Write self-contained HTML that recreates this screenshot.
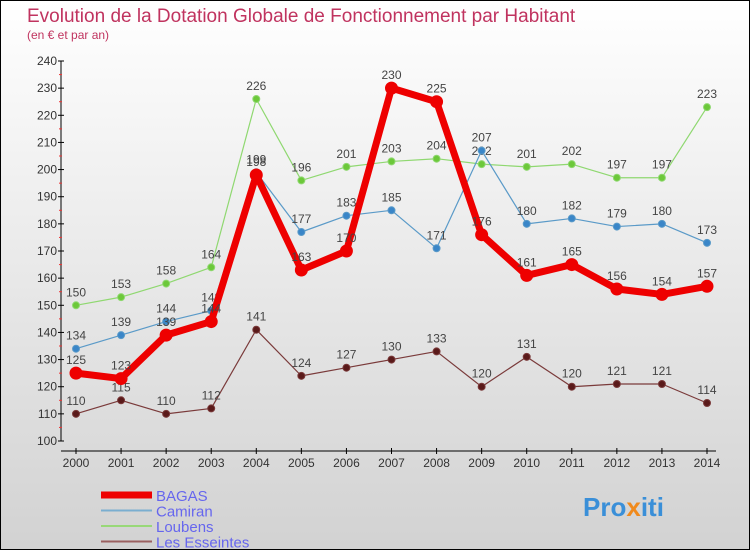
<!DOCTYPE html>
<html><head><meta charset="utf-8"><style>
body{margin:0}
#c{width:750px;height:550px;position:relative;overflow:hidden;box-sizing:border-box;border:1px solid #000;background:linear-gradient(#fff,#d2d2d2);font-family:"Liberation Sans",sans-serif}
</style></head><body>
<div id="c">
<svg id="s" width="750" height="550" style="position:absolute;left:0;top:0">
<text x="26" y="21" font-size="19" fill="#c0335f">Evolution de la Dotation Globale de Fonctionnement par Habitant</text>
<text x="26" y="38" font-size="12" fill="#c0335f">(en € et par an)</text>
<g id="axes"></g><g id="series"></g><g id="legend"></g>
<text x="582" y="515" font-size="26" font-weight="bold" fill="#3a8fd8">Pro<tspan fill="#f08a1c">x</tspan>iti</text>
</svg>
</div>
<script>
const years=["2000","2001","2002","2003","2004","2005","2006","2007","2008","2009","2010","2011","2012","2013","2014"];
const yTicks=[100,110,120,130,140,150,160,170,180,190,200,210,220,230,240];
const bagas=[125,123,139,144,198,163,170,230,225,176,161,165,156,154,157];
const camiran=[134,139,144,148,199,177,183,185,171,207,180,182,179,180,173];
const loubens=[150,153,158,164,226,196,201,203,204,202,201,202,197,197,223];
const esseintes=[110,115,110,112,141,124,127,130,133,120,131,120,121,121,114];
const NS="http://www.w3.org/2000/svg";
const xs=i=>75+i*(631/14);
const ys=v=>440-(v-100)*380/140;
function mk(t,a,p){const e=document.createElementNS(NS,t);for(const k in a)e.setAttribute(k,a[k]);p.appendChild(e);return e;}
const ax=document.getElementById('axes');
let l=mk('line',{x1:60,y1:60,x2:60,y2:440,stroke:'#000'},ax);

l=mk('line',{x1:60,y1:450,x2:715,y2:450,stroke:'#000'},ax);

yTicks.forEach((v,i)=>{const y=ys(v);
 mk('line',{x1:57,y1:y,x2:63,y2:y,stroke:'#000'},ax);
 if(i<yTicks.length-1)mk('line',{x1:58,y1:y-13.57,x2:61,y2:y-13.57,stroke:'#e33'},ax);
 const t=mk('text',{x:56,y:y+4,'font-size':12,'text-anchor':'end',fill:'#333'},ax);t.textContent=v;
 });
years.forEach((yr,i)=>{const x=xs(i);
 mk('line',{x1:x,y1:447,x2:x,y2:453,stroke:'#000'},ax);
 const t=mk('text',{x:x,y:466,'font-size':12,'text-anchor':'middle',fill:'#333'},ax);t.textContent=yr;
 });
const sg=document.getElementById('series');
function series(name,data,col,w,r,dot){
 const g=mk('g',{},sg);
 const pts=data.map((v,i)=>xs(i)+','+ys(v)).join(' ');
 mk('polyline',{points:pts,fill:'none',stroke:col,'stroke-width':w,'stroke-linejoin':'round'},g);
 data.forEach((v,i)=>{const c=mk('circle',{cx:xs(i),cy:ys(v),r:r,fill:dot,stroke:col,'stroke-width':1},g);
  
  const t=mk('text',{x:xs(i),y:ys(v)-9,'font-size':12,'text-anchor':'middle',fill:'#444'},g);t.textContent=v;
  });
}
series('esseintes',esseintes,'#7a3a3a',1.2,3.5,'#5a1a1a');
series('loubens',loubens,'#8fd870',1.2,3.5,'#6cc83a');
series('camiran',camiran,'#5a9ac8',1.2,3.5,'#3a86c8');
series('bagas',bagas,'#ee0000',7,6,'#ee0000');
const lg=document.getElementById('legend');
[['BAGAS','#ee0000',7],['Camiran','#7aaed0',2],['Loubens','#98d878',2],['Les Esseintes','#9a6060',2]].forEach((e,i)=>{
 const y=494+i*15.5;
 const g=mk('g',{},lg);
 mk('line',{x1:100,y1:y,x2:151,y2:y,stroke:e[1],'stroke-width':e[2]},g);
 const t=mk('text',{x:155,y:y+6,'font-size':15,fill:'#6666ee'},g);t.textContent=e[0];
});
</script>
</body></html>
